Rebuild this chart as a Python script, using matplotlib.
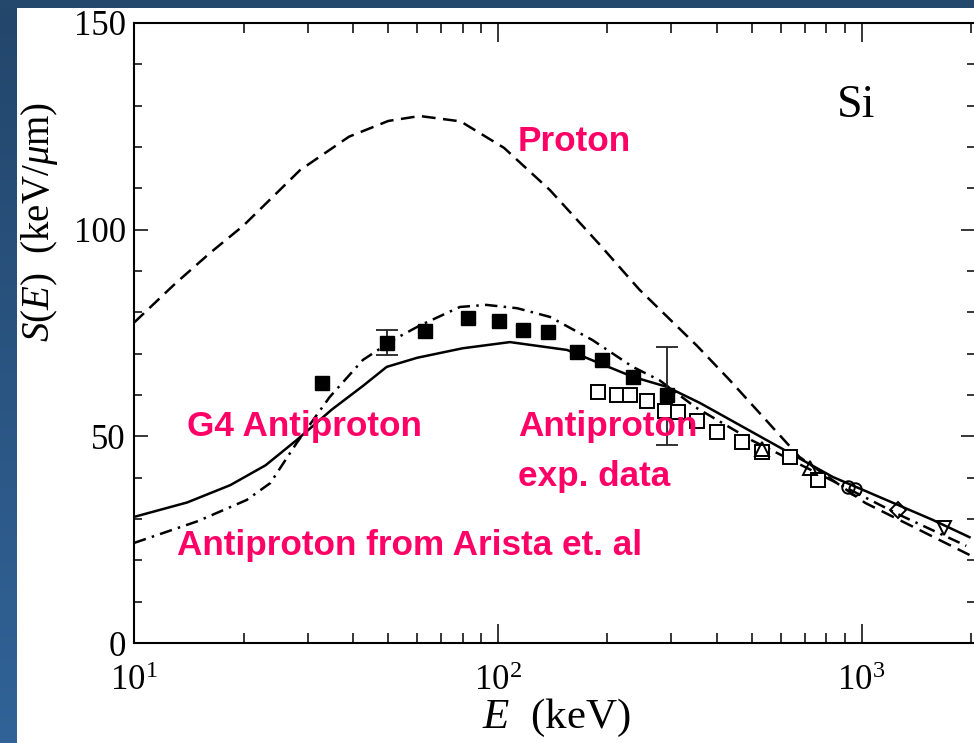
import numpy as np
import matplotlib
matplotlib.use("Agg")
import matplotlib.pyplot as plt
from matplotlib.ticker import FixedLocator, LogFormatterMathtext, MultipleLocator, NullFormatter
from matplotlib.colors import LinearSegmentedColormap

plt.rcParams['font.family'] = ['Liberation Serif', 'DejaVu Serif']
plt.rcParams['mathtext.fontset'] = 'custom'
plt.rcParams['mathtext.rm'] = 'Liberation Serif'
plt.rcParams['mathtext.it'] = 'Liberation Serif:italic'

# ---------------- data ----------------
proton_E = [10, 13, 16.2, 20, 28.6, 39, 50, 61, 79, 104, 139, 191, 245, 352, 434, 675, 1023, 1980]
proton_S = [77.5, 87, 94.4, 101, 114.4, 122.5, 126.3, 127.5, 126.2, 119.8, 109.6, 96.3, 85.5, 72, 63.6, 45, 33.9, 21.3]

g4_E = [10, 14, 18.4, 23, 28, 35, 42.6, 49.5, 60, 80, 108, 155, 235, 291, 359, 548, 832, 1567, 1980]
g4_S = [30.5, 34, 38.2, 43, 49.1, 56.5, 62.2, 66.8, 69, 71.3, 72.8, 70.9, 64.4, 62, 58.1, 49.1, 40.2, 29.8, 25.6]

arista_E = [10, 15, 20.4, 23.7, 28, 34.5, 42.6, 52, 61, 78.7, 93, 113, 139, 182, 235, 278, 350, 500, 800, 1271, 1940]
arista_S = [24.2, 29.5, 34.6, 38.7, 48.4, 59.5, 68.5, 73.5, 76.8, 81.3, 81.8, 81, 78.9, 73.3, 66.8, 63.6, 57, 49, 40, 31, 23.5]

pbar_E = [32.8, 49.5, 63, 82.8, 101, 117, 137, 165, 194, 235, 291]
pbar_S = [62.9, 72.6, 75.5, 78.6, 77.9, 75.7, 75.2, 70.4, 68.5, 64.4, 60.0]
err_E = [49.5, 291]
err_S = [72.6, 60.0]
err_lo = [69.7, 47.9]
err_hi = [75.7, 71.6]

open_sq_E = [188, 212, 231, 257, 288, 313, 352, 400, 468, 534, 634, 757]
open_sq_S = [60.7, 60, 60, 58.6, 56.2, 55.9, 53.8, 51, 48.6, 46.2, 45, 39.4]
tri_E = [534, 720]
tri_S = [47, 42.3]
circ_E = [916, 957]
circ_S = [37.7, 37.3]
dia_E = [1256]
dia_S = [32.2]
tdown_E = [1690]
tdown_S = [27.8]

x_major = [10, 100, 1000]
y_major = [0, 50, 100, 150]

# ---------------- figure ----------------
W, H = 974, 743
fig = plt.figure(figsize=(W / 100, H / 100), dpi=100)
fig.patch.set_facecolor('white')

# blue frame
lb = fig.add_axes([0, 0, 17 / W, 1])
grad = np.linspace(0, 1, 256).reshape(-1, 1)
cm = LinearSegmentedColormap.from_list('b', ['#23466b', '#316398'])
lb.imshow(grad, aspect='auto', cmap=cm, extent=[0, 1, 0, 1])
lb.axis('off')
tb = fig.add_axes([0, 1 - 8 / H, 1, 8 / H])
tb.set_facecolor('#24476c')
tb.set_xticks([]); tb.set_yticks([])
for s in tb.spines.values():
    s.set_visible(False)

ax = fig.add_axes([134 / W, (H - 643) / H, (975 - 134) / W, (643 - 23) / H])
ax.set_xscale('log')
ax.set_xlim(10, 2050)
ax.set_ylim(0, 150)

lw = 1.8
ax.plot(proton_E, proton_S, color='black', lw=lw, dashes=[5.5, 3])
ax.plot(g4_E, g4_S, color='black', lw=lw)
ax.plot(arista_E, arista_S, color='black', lw=lw, dashes=[5, 2.5, 1, 2.5])

yerr = [np.array(err_S) - np.array(err_lo), np.array(err_hi) - np.array(err_S)]
ax.errorbar(err_E, err_S, yerr=yerr, fmt='none', ecolor='#222222', elinewidth=1.3, capsize=8, capthick=1.3)
ax.plot(pbar_E, pbar_S, 's', color='black', ms=10)
ax.plot(open_sq_E, open_sq_S, 's', mfc='white', mec='black', mew=1.4, ms=9.5)
ax.plot(tri_E, tri_S, '^', mfc='none', mec='black', mew=1.4, ms=10)
ax.plot(circ_E, circ_S, 'o', mfc='none', mec='black', mew=1.4, ms=9)
ax.plot(dia_E, dia_S, 'D', mfc='none', mec='black', mew=1.4, ms=8)
ax.plot(tdown_E, tdown_S, 'v', mfc='none', mec='black', mew=1.4, ms=10)

for s in ax.spines.values():
    s.set_linewidth(1.5)
ax.xaxis.set_major_locator(FixedLocator(x_major))
ax.xaxis.set_major_formatter(LogFormatterMathtext())
ax.xaxis.set_minor_formatter(NullFormatter())
ax.yaxis.set_major_locator(FixedLocator(y_major))
ax.yaxis.set_minor_locator(MultipleLocator(10))
ax.tick_params(axis='both', which='both', direction='in', top=True, right=True, width=1.1)
ax.tick_params(axis='x', which='major', length=14, pad=16, labelsize=25)
ax.tick_params(axis='x', which='minor', length=7)
ax.tick_params(axis='y', which='major', length=10, pad=6, labelsize=25)
ax.tick_params(axis='y', which='minor', length=6)

def px(x, y):
    return x / W, 1 - y / H

fig.text(*px(40, 222), r'$S(E)$  (keV/$\mu$m)', rotation=90, ha='center', va='center', fontsize=28)
fig.text(*px(556, 718), r'$E$  (keV)', ha='center', va='center', fontsize=31)
fig.text(*px(837, 117), 'Si', ha='left', va='baseline', fontsize=33)

mag = '#ff0066'
kw = dict(color=mag, fontweight='bold', family=['Liberation Sans', 'DejaVu Sans'],
          fontsize=25.3, ha='left', va='baseline')
fig.text(*px(518, 151), 'Proton', **kw)
fig.text(*px(187, 436), 'G4 Antiproton', **kw)
fig.text(*px(518, 436), 'Antiproton', **kw)
fig.text(*px(518, 486), 'exp. data', **kw)
fig.text(*px(177, 555), 'Antiproton from Arista et. al', **kw)

fig.savefig('out.png', dpi=100)
